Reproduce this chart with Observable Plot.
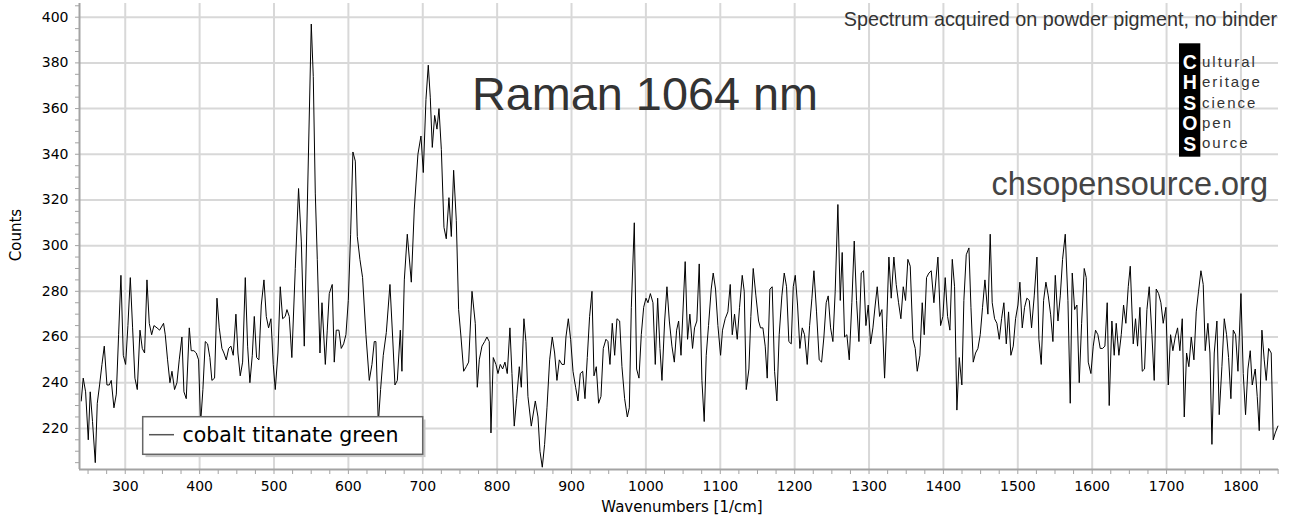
<!DOCTYPE html>
<html><head><meta charset="utf-8">
<script src="https://cdn.jsdelivr.net/npm/d3@7"></script>
<script src="https://cdn.jsdelivr.net/npm/@observablehq/plot@0.6"></script>
<style>
html,body{margin:0;padding:0;background:#fff;}
#chart{width:1293px;height:524px;overflow:hidden;}
</style></head>
<body><div id="chart"></div>
<script>
// Raman shift (1/cm)
const wavenumbers = [
  240.8,243.5,246.7,250.3,252.9,256,259.7,262.4,265.5,268.7,
  271.8,275.4,278.5,281.2,284.8,288,291.1,294.2,297.4,300.5,
  303.6,306.8,309.9,313,316.2,319.8,322.9,326,329.2,332.3,
  335.5,338.6,342.7,346.2,
  351.5,353.8,356.9,360.1,362.8,366.3,369.5,372.6,376.2,378.9,
  382,386.1,388.7,392.3,395.5,398.6,401.3,404.4,407.6,410.7,
  413.8,416.5,420.1,423.3,426.4,430,432.7,435.8,439,442.1,
  445.2,448.8,451.5,454.6,457.8,461.4,464.5,467.6,470.8,473.5,
  476.6,479.7,482.9,486.5,489.6,492.7,495.9,499,501.7,505.3,
  508.4,511.6,515.1,
  517.4,520.5,524,528.6,533,536.7,540.7,550.1,552.8,
  555.5,558.2,561.8,564.5,569,571.6,574.3,578.3,581,583.7,
  587.3,590.4,593.6,596.7,599.9,603,606.1,609.3,612,615.5,
  619.1,623.6,628.1,631.7,634.8,637,640.2,643.3,646.9,651,
  655.9,659.5,662.6,665.8,669.8,672,675.2,679.2,684.6,688.6,
  693.5,697.6,700.7,704.3,707.4,710.1,712.8,716,719.1,721.8,
  725,728.5,731.6,735.2,738.4,741.5,745.1,748.2,751.4,755,
  758.5,761.7,766.2,770.6,773.3,776,779.6,783.2,
  786.3,789.4,791.7,794.8,798.4,801.1,804.2,807.4,810.5,813.6,
  817.2,819.9,823,826.2,829.8,832.5,836,838.7,841.4,845.9,
  851.3,854.9,857.6,860.7,863.8,867,870.6,874.1,877.3,880.4,
  883.6,887.1,890.3,892.5,895.7,898.8,902,905.5,908.7,911.8,
  915,918.1,921.2,924.3,927.5,930.2,933.3,936.4,939.6,942.7,
  946.3,949,951.7,954.8,958,961.1,964.7,967.8,971.4,975,
  977.7,980.4,984.4,987.5,990.7,993.8,997,1000.1,1002.8,1006,
  1009.5,1012.6,1015.8,1018.9,1021.6,1025.2,1028.3,1031.5,1035,1038.2,
  1041.3,1044,1047.2,
  1052.8,1056,1059.1,1062.7,1065.4,1068.5,1071.7,1075.3,1078.4,1081.1,
  1084.2,1087.8,1090.5,1093.6,1096.8,1100.4,1103,1106.6,1110.2,1113.4,
  1116.1,1119.2,1122.8,1125.9,1129.5,1132.2,1134.9,1138.5,1141.1,1144.3,
  1147.9,1151.5,1154.1,1157.3,1160.4,1163.1,1166.7,1169.8,1173,1176.1,
  1179.2,1182.8,1186,1189.1,1192.2,1195.4,1198.1,1200.8,1203.9,1207,
  1210.2,1213.3,1216.9,1220.1,1223.2,1225.9,1229.4,1233,1236.2,1239.3,
  1242.4,1245.1,1248.3,1251.4,1254.5,1258.1,1261.3,1263.9,1267.1,1270.2,
  1273.4,1276.9,1280.1,1283.2,1286.4,1289.5,1292.6,1295.8,1298.9,1302.1,
  1305.2,1308.3,1311,1314.2,1317.3,1320.9,
  1323.5,1326.7,1329.8,1333.4,1336.5,1339.7,1342.8,1346,1349.1,1352.2,
  1355.4,1359,1362.1,1364.8,1368.4,1371.5,1374.2,1377.3,1380.5,1383.6,
  1387.2,1392.6,1396.2,1399.3,1402.4,1405.6,1408.7,1411.9,1415,1418.1,
  1421.3,1424.8,1427.5,1430.7,1434.3,1437,1440.1,1443.2,1446.4,1449.5,
  1452.6,1455.8,1459.8,1462.9,1465.6,1468.8,1471.9,1475.1,1478.2,1481.3,
  1484.5,1487.6,1490.7,1493.9,1497,1500.2,1502.8,1506,1509.1,1512.2,
  1515.4,1518.5,1522.1,1525.7,1528.4,1531.5,1534.7,1537.8,1541,1544.1,
  1547.2,1550.4,1554,1557.1,1560.2,1563.8,1567.4,1570.5,1573.2,1576.4,
  1579.5,1582.6,1585.8,1589.3,
  1592,1594.7,1598.3,1601.4,1604.5,1607.7,1610.8,1614,1617.1,1620.2,
  1622.9,1626.5,1629.6,1632.3,1635.9,1639.1,1642.2,1645.3,1648.5,1651.2,
  1655.2,1658.3,1661,1664.2,1667.3,1670.4,1673.6,1676.7,1680.3,1683.4,
  1686.1,1689.3,1692.4,1695.5,1699.1,1702.3,1705.4,1708.5,1711.7,1714.8,
  1717.9,1721.1,1723.8,1726.9,1730,1733.2,1736.8,1739.9,1743,1746.2,
  1749.3,1752,1755.6,1758.3,1761,1764.1,1767.7,1770.8,1774.4,1777.6,
  1780.7,1783.4,1786.5,1789.7,1792.8,1796,1800,1803.1,1806.2,1809.4,
  1812.5,1815.2,1819.2,1821.9,1824.6,1828.2,1831.3,1834,1837.2,1840.7,
  1843.4,1846.1,1849.7
];
// Counts
const counts = [
  232,242,236,215,236,223,205,231,239,248,
  256,239,239,241,229,235,261,287,252,248,
  265,286,264,242,237,263,255,253,285,266,
  261,265,264,263,
  266,261,250,240,245,237,240,250,260,236,
  233,264,254,254,253,250,222,237,258,257,
  251,241,242,277,264,255,253,250,255,256,
  252,270,253,243,249,286,256,240,252,269,
  251,250,274,285,269,264,268,248,237,253,
  282,268,269,
  272,269,251,290,325,302,256,397,374,
  323,294,253,275,248,263,279,283,249,263,
  263,255,257,261,276,305,341,337,304,294,
  286,261,241,248,258,258,222,237,252,262,
  283,260,239,241,263,245,285,305,284,316,
  340,348,332,364,379,365,343,357,351,360,
  342,308,303,321,304,333,311,272,260,245,
  247,249,280,266,238,250,256,258,
  260,258,218,251,248,244,248,246,249,244,
  264,244,221,233,247,238,268,258,234,221,
  232,225,210,203,213,229,250,260,253,241,
  250,248,248,260,268,259,245,238,232,244,
  245,233,251,269,280,243,247,231,234,255,
  259,258,248,266,252,268,267,247,233,225,
  229,273,310,246,242,261,273,277,275,279,
  275,248,277,255,241,267,282,267,256,249,
  263,267,252,
  293,259,270,255,264,267,292,241,223,252,
  265,281,288,281,265,252,263,268,271,283,
  261,270,259,273,287,280,237,246,269,290,
  278,267,264,264,256,242,281,282,245,232,
  261,278,288,282,258,257,282,287,274,255,
  264,261,248,265,277,289,271,250,249,260,
  275,278,264,258,280,318,276,297,260,261,
  250,275,302,276,258,288,289,265,274,257,
  264,274,282,269,272,242,
  264,295,277,295,283,275,268,282,276,294,
  291,259,255,245,252,275,261,286,288,289,
  275,295,265,269,286,269,263,294,282,228,
  251,239,276,296,299,273,249,253,255,261,
  273,285,270,305,275,268,266,259,268,275,
  257,271,252,256,268,274,284,264,273,277,
  276,264,278,295,259,248,276,284,278,270,
  258,287,267,278,294,305,276,231,288,272,
  274,240,266,290,
  286,249,244,256,263,261,255,255,256,275,
  230,267,252,266,252,261,274,266,282,291,
  257,268,256,273,245,246,272,282,261,241,
  281,279,275,266,273,239,261,254,260,264,
  254,268,225,253,247,260,250,271,280,289,
  283,254,266,253,213,253,267,226,247,268,
  261,251,233,263,261,245,279,244,226,246,
  254,239,246,234,219,263,250,241,255,253,
  215,218,221
];
const xTicks = [300,400,500,600,700,800,900,1000,1100,1200,1300,1400,1500,1600,1700,1800];
const yTicks = [220,240,260,280,300,320,340,360,380,400];
const xMinorTicks = d3.range(250, 1851, 25);
const yMinorTicks = d3.range(205, 406, 5);
const xDomain = [238.5, 1850.5];
const yDomain = [202, 406];
const seriesName = "cobalt titanate green";
const titleText = "Raman 1064 nm";
const noteText = "Spectrum acquired on powder pigment, no binder";
const urlText = "chsopensource.org";
const logoLetters = ["C","H","S","O","S"];
const logoWords = ["ultural","eritage","cience","pen","ource"];
const xLabel = "Wavenumbers [1/cm]";
const yLabel = "Counts";

if (wavenumbers.length !== counts.length) console.error("length mismatch", wavenumbers.length, counts.length);
const data = wavenumbers.map((w, i) => ({w, c: counts[i]}));

const axisColor = "#a3a3a3";
const gridColor = "#d8d8d8";
const plain = d => String(d);

const plot = Plot.plot({
  width: 1293, height: 524,
  marginLeft: 79, marginRight: 15, marginTop: 3, marginBottom: 55,
  x: {domain: xDomain},
  y: {domain: yDomain},
  style: {fontFamily: "'DejaVu Sans', Verdana, sans-serif", fontSize: "14px", background: "#fff", color: "#000", overflow: "visible"},
  marks: [
    Plot.gridX(xTicks, {stroke: gridColor, strokeOpacity: 1, strokeWidth: 2}),
    Plot.gridY(yTicks, {stroke: gridColor, strokeOpacity: 1, strokeWidth: 2}),
    Plot.line(data, {x: "w", y: "c", stroke: "#000", strokeWidth: 1}),
    Plot.axisX(xMinorTicks, {anchor: "bottom", tickSize: 5, tickFormat: () => "", label: null, stroke: axisColor, strokeOpacity: 1}),
    Plot.axisX(xTicks, {anchor: "bottom", tickSize: 0, tickPadding: 12, tickFormat: plain, label: null, fill: "#000", fontSize: 14}),
    Plot.axisY(yMinorTicks, {anchor: "left", tickSize: 4, tickFormat: () => "", label: null, stroke: axisColor, strokeOpacity: 1}),
    Plot.axisY(yTicks, {anchor: "left", tickSize: 0, tickPadding: 11, tickFormat: plain, label: null, fill: "#000", fontSize: 14}),
    Plot.ruleX([xDomain[0]], {stroke: axisColor, strokeWidth: 2}),
    Plot.ruleY([yDomain[0]], {stroke: axisColor, strokeWidth: 2})
  ]
});

const svg = d3.select(plot);
const sans = "'Liberation Sans', Arial, sans-serif";
const dejavu = "'DejaVu Sans', Verdana, sans-serif";

// annotations
svg.append("text").attr("x", 472).attr("y", 110).attr("text-anchor", "start").attr("font-family", sans).attr("font-size", 46.8).attr("fill", "#333").text(titleText);
svg.append("text").attr("x", 1277).attr("y", 26).attr("text-anchor", "end").attr("font-family", sans).attr("font-size", 19.8).attr("fill", "#333").text(noteText);
svg.append("text").attr("x", 1268).attr("y", 195).attr("text-anchor", "end").attr("font-family", sans).attr("font-size", 32.5).attr("fill", "#444").text(urlText);

// logo
const logo = svg.append("g");
logo.append("rect").attr("x", 1179).attr("y", 43.3).attr("width", 21.3).attr("height", 113.4).attr("fill", "#000");
logoLetters.forEach((L, i) => {
  logo.append("text").attr("x", 1189.8).attr("y", 68.5 + i * 20.5).attr("text-anchor", "middle")
    .attr("font-family", sans).attr("font-weight", "bold").attr("font-size", 19.5).attr("fill", "#fff").text(L);
});
logoWords.forEach((w, i) => {
  logo.append("text").attr("x", 1202).attr("y", 66.7 + i * 20.4).attr("text-anchor", "start")
    .attr("font-family", sans).attr("font-size", 15).attr("letter-spacing", "2px").attr("fill", "#333").text(w);
});

// legend
const lg = svg.append("g");
lg.append("rect").attr("x", 145.5).attr("y", 419.5).attr("width", 280).attr("height", 37.6).attr("fill", "#c8c8c8");
lg.append("rect").attr("x", 142.7).attr("y", 416.7).attr("width", 280).attr("height", 37.6).attr("fill", "#fff").attr("stroke", "#666").attr("stroke-width", 1.5);
lg.append("line").attr("x1", 149).attr("x2", 174).attr("y1", 434.7).attr("y2", 434.7).attr("stroke", "#555").attr("stroke-width", 1.5);
lg.append("text").attr("x", 182.5).attr("y", 441.7).attr("text-anchor", "start").attr("font-family", dejavu).attr("font-size", 20.5).attr("fill", "#000").text(seriesName);

// axis titles
svg.append("text").attr("x", 682).attr("y", 512).attr("text-anchor", "middle").attr("font-family", dejavu).attr("font-size", 15).attr("fill", "#000").text(xLabel);
svg.append("text").attr("transform", "translate(21,235) rotate(-90)").attr("text-anchor", "middle").attr("font-family", dejavu).attr("font-size", 15).attr("fill", "#000").text(yLabel);

document.getElementById("chart").appendChild(plot);
</script>
</body></html>
